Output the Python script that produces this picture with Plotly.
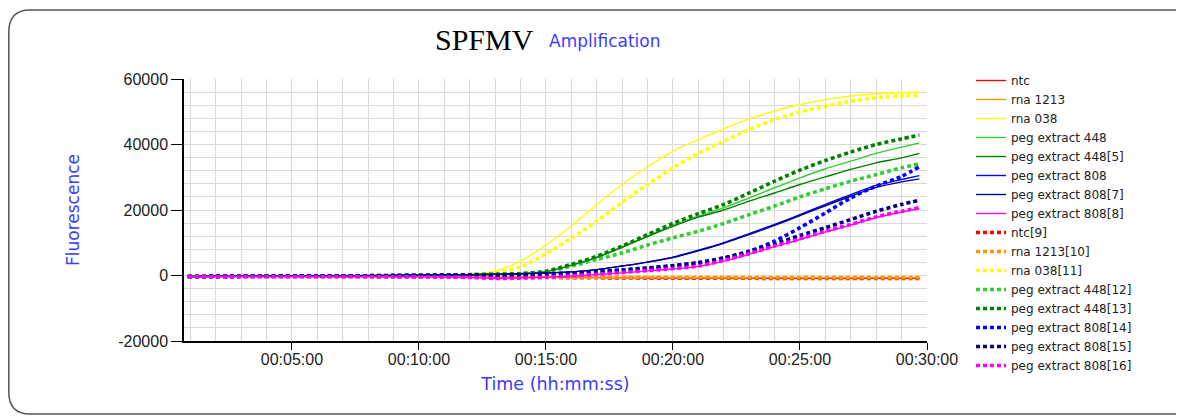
import plotly.graph_objects as go

# ---------------- data ----------------
time_min = [0.9, 3, 6, 9, 11, 12, 13, 14, 15, 16, 17, 18, 19, 20, 21, 22, 23, 24,
            25, 26, 27, 28, 29, 29.7]

ntc = [-250, -250, -300, -300, -350, -400, -450, -500, -550, -600, -650, -700,
       -750, -750, -800, -800, -800, -850, -850, -850, -850, -850, -850, -850]
rna_1213 = [-250, -250, -250, -250, -300, -300, -350, -400, -450, -500, -500, -550,
            -550, -600, -600, -600, -650, -650, -650, -650, -650, -650, -650, -650]
rna_038 = [-300, -250, -150, 0, 200, 400, 1300, 4400, 9300, 15100, 21700, 27800,
           33200, 38000, 41500, 44800, 47800, 50200, 52200, 53700, 54800, 55500, 55800, 56000]
peg_448 = [-300, -250, -150, 0, 150, 250, 400, 600, 1200, 3200, 5600, 8700,
           12100, 15300, 18100, 20700, 23700, 26800, 29800, 32600, 34900, 37300, 39200, 40500]
peg_448_5 = [-300, -250, -150, 0, 150, 250, 400, 600, 1200, 3100, 5500, 8600,
             11900, 15000, 17800, 20000, 22700, 25200, 27800, 30100, 32400, 34400, 35900, 37300]
peg_808 = [-300, -250, -150, 0, 150, 250, 400, 550, 750, 1100, 1800, 2900,
           4100, 5600, 7700, 10000, 12800, 15600, 18600, 21700, 24700, 27500, 29300, 30500]
peg_808_7 = [-300, -250, -150, 0, 150, 250, 400, 550, 750, 1100, 1800, 2900,
             4100, 5500, 7500, 9800, 12500, 15300, 18300, 21300, 24200, 26900, 28600, 29500]
peg_808_8 = [-400, -400, -400, -400, -500, -600, -900, -800, -500, -150, 300, 800,
             1400, 2000, 2800, 4400, 6500, 8800, 11000, 13300, 15400, 17700, 19400, 20400]
ntc_9 = [-300, -300, -300, -350, -400, -450, -500, -550, -600, -650, -700, -750,
         -800, -800, -850, -850, -850, -900, -900, -900, -900, -900, -900, -900]
rna_1213_10 = [-250, -250, -250, -300, -300, -350, -400, -400, -450, -500, -550, -550,
               -600, -600, -600, -650, -650, -650, -650, -650, -650, -650, -650, -650]
rna_038_11 = [-300, -250, -150, 0, 150, 350, 800, 2600, 6700, 11500, 16600, 22400,
              27800, 32900, 37300, 41000, 44600, 47600, 49900, 51700, 53200, 54300, 54800, 55100]
peg_448_12 = [-300, -250, -150, 0, 150, 250, 350, 500, 1100, 2900, 4900, 6900,
              9300, 11500, 13500, 15900, 18600, 21200, 24000, 26500, 28800, 30800, 32900, 34100]
peg_448_13 = [-300, -250, -150, 0, 150, 250, 400, 600, 1300, 3400, 5900, 9000,
              12500, 15900, 18900, 21700, 25200, 28800, 32200, 35100, 37700, 40000, 41700, 42900]
peg_808_14 = [-300, -250, -150, -50, 0, 0, -100, 100, 400, 700, 1100, 1700,
              2300, 3000, 3900, 5400, 7400, 10500, 14600, 19100, 23700, 27300, 30300, 33200]
peg_808_15 = [-300, -250, -150, -50, 50, 100, 100, 250, 450, 750, 1150, 1650,
              2250, 2950, 3900, 5300, 7300, 9700, 12200, 14600, 17100, 19600, 21700, 23000]
peg_808_16 = [-400, -400, -400, -400, -500, -600, -900, -800, -500, -100, 400, 900,
              1500, 2100, 2900, 4600, 6700, 9000, 11200, 13500, 15600, 17900, 19600, 20700]

series_names = ["ntc", "rna 1213", "rna 038", "peg extract 448", "peg extract 448[5]",
                "peg extract 808", "peg extract 808[7]", "peg extract 808[8]",
                "ntc[9]", "rna 1213[10]", "rna 038[11]", "peg extract 448[12]",
                "peg extract 448[13]", "peg extract 808[14]", "peg extract 808[15]",
                "peg extract 808[16]"]
series_values = [ntc, rna_1213, rna_038, peg_448, peg_448_5, peg_808, peg_808_7, peg_808_8,
                 ntc_9, rna_1213_10, rna_038_11, peg_448_12, peg_448_13, peg_808_14,
                 peg_808_15, peg_808_16]

x_tick_vals = [5, 10, 15, 20, 25, 30]
x_tick_text = ["00:05:00", "00:10:00", "00:15:00", "00:20:00", "00:25:00", "00:30:00"]
y_tick_vals = [-20000, 0, 20000, 40000, 60000]
y_tick_text = ["-20000", "0", "20000", "40000", "60000"]

# ---------------- styles / layout ----------------
palette = ["#ff0000", "#ff9900", "#ffff00", "#33cc33", "#008000", "#0000ff", "#000080", "#ff00ff"]
colors = palette + palette

OFF = 8                       # default page body margin
W, H = 1184 - OFF, 419 - OFF
SL, SR, ST, SB = 184, 927, 79, 341   # plot area in screen pixels
ML, MR, MT, MB = SL - OFF, W - (SR - OFF), ST - OFF, H - (SB - OFF)
PW, PH = W - ML - MR, H - MT - MB


def px(x):
    return (x - OFF - ML) / PW


def py(y):
    return (H - MB - (y - OFF)) / PH


fig = go.Figure()
for i, (name, vals) in enumerate(zip(series_names, series_values)):
    dotted = i >= 8
    fig.add_trace(go.Scatter(
        x=time_min, y=vals, name=name, mode="lines",
        line=dict(color=colors[i], width=3.6 if dotted else 1.4,
                  dash="4px,3px" if dotted else "solid", shape="spline", smoothing=0.8),
    ))

blue = "#3b3bff"
fig.update_layout(
    width=W, height=H,
    margin=dict(l=ML, r=MR, t=MT, b=MB, autoexpand=False),
    paper_bgcolor="white", plot_bgcolor="white",
    font=dict(family="Liberation Sans, Arial, sans-serif", size=16, color="#222"),
    showlegend=True,
    legend=dict(x=px(971), y=py(66), xanchor="left", yanchor="top", maxheight=400,
                font=dict(family="DejaVu Sans", size=12, color="#222"),
                bgcolor="rgba(0,0,0,0)", borderwidth=0, tracegroupgap=0),
    xaxis=dict(
        range=[0.75, 30], tickvals=x_tick_vals, ticktext=x_tick_text,
        showgrid=True, gridcolor="#d9d9d9", gridwidth=1,
        minor=dict(dtick=1, tick0=0, showgrid=True, gridcolor="#d9d9d9", gridwidth=1),
        showline=True, linecolor="black", linewidth=1.5, zeroline=False,
        ticks="outside", ticklen=7, tickcolor="black", tickwidth=1,
        ticklabelstandoff=-4,
        tickfont=dict(size=16, color="#222"),
        title=dict(text="Time (hh:mm:ss)", font=dict(family="DejaVu Sans", size=17.5, color=blue),
                   standoff=11),
    ),
    yaxis=dict(
        range=[-20000, 60000], tickvals=y_tick_vals, ticktext=y_tick_text,
        showgrid=True, gridcolor="#d9d9d9", gridwidth=1,
        minor=dict(dtick=4000, tick0=0, showgrid=True, gridcolor="#d9d9d9", gridwidth=1),
        showline=True, linecolor="black", linewidth=1.5, zeroline=False,
        ticks="outside", ticklen=11, tickcolor="black", tickwidth=1,
        tickfont=dict(size=16, color="#222"),
        title=dict(text="Fluorescence", font=dict(family="DejaVu Sans", size=17, color=blue),
                   standoff=34),
    ),
)

# title: two pieces of text
fig.add_annotation(x=px(536), y=py(40), xref="paper", yref="paper", xanchor="right",
                   yanchor="middle", showarrow=False, text="SPFMV",
                   font=dict(family="Liberation Serif", size=30, color="black"))
fig.add_annotation(x=px(547), y=py(41), xref="paper", yref="paper", xanchor="left",
                   yanchor="middle", showarrow=False, text="Amplification",
                   font=dict(family="DejaVu Sans", size=17, color=blue))

# rounded outer frame
frame = (f"M{px(1200)},{py(10)} L{px(30)},{py(10)} Q{px(8.8)},{py(10)} {px(8.8)},{py(32)} "
         f"L{px(8.8)},{py(392)} Q{px(8.8)},{py(414)} {px(30)},{py(414)} L{px(1200)},{py(414)}")
fig.add_shape(type="path", path=frame, xref="paper", yref="paper",
              line=dict(color="#555555", width=1.5))

fig.write_html("out.html")
